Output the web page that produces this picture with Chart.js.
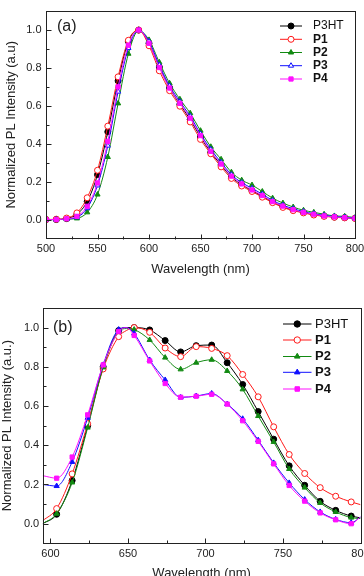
<!DOCTYPE html>
<html>
<head>
<meta charset="utf-8">
<script src="https://cdn.jsdelivr.net/npm/chart.js@4.4.1/dist/chart.umd.min.js"></script>
<style>
  html, body { margin: 0; padding: 0; background: #fff; overflow: hidden; width: 364px; height: 576px; }
  .box { position: absolute; left: 0; }
  #boxA { top: 0; }
  #boxB { top: 290px; }
</style>
</head>
<body>
<div class="box" id="boxA"><canvas id="chartA" width="380" height="290"></canvas></div>
<div class="box" id="boxB"><canvas id="chartB" width="380" height="300"></canvas></div>
<script>
// ── Panel (a) ──
const wlA = [500,510,520,530,540,550,560,570,580,590,600,610,620,630,640,650,660,670,680,690,700,710,720,730,740,750,760,770,780,790,800];
const p3htA = [0,0,0.005,0.028,0.095,0.237,0.463,0.732,0.94,1.0,0.93,0.805,0.695,0.608,0.528,0.436,0.355,0.288,0.225,0.184,0.153,0.123,0.093,0.068,0.05,0.037,0.026,0.019,0.013,0.01,0.007];
const p1A   = [0,0.002,0.008,0.035,0.115,0.26,0.493,0.753,0.946,1.0,0.917,0.785,0.68,0.598,0.515,0.423,0.347,0.278,0.217,0.177,0.148,0.118,0.089,0.064,0.047,0.035,0.024,0.017,0.012,0.009,0.006];
const p2A   = [0,0,0.002,0.006,0.038,0.132,0.33,0.613,0.875,0.997,0.948,0.83,0.719,0.635,0.561,0.469,0.384,0.318,0.25,0.208,0.182,0.148,0.113,0.087,0.066,0.049,0.038,0.028,0.019,0.017,0.01];
const p3A   = [0,0,0.003,0.012,0.06,0.18,0.39,0.675,0.905,1.0,0.94,0.815,0.705,0.622,0.545,0.452,0.37,0.302,0.237,0.195,0.165,0.134,0.101,0.076,0.057,0.042,0.031,0.022,0.016,0.012,0.008];
const p4A   = [0,0,0.004,0.017,0.07,0.193,0.413,0.7,0.92,1.0,0.93,0.802,0.694,0.613,0.535,0.443,0.36,0.293,0.229,0.188,0.156,0.127,0.095,0.071,0.052,0.038,0.028,0.019,0.014,0.01,0.007];

// ── Panel (b) ──
const wlB = [595,604,614,624,634,644,649,654,664,674,684,694,704,714,724,734,744,754,764,774,784,794,800];
const p3htB = [0,0.048,0.22,0.5,0.8,0.985,1.0,1.0,0.988,0.934,0.876,0.908,0.911,0.821,0.71,0.572,0.431,0.295,0.196,0.114,0.068,0.039,0.03];
const p1B   = [0.015,0.077,0.254,0.51,0.789,0.954,0.985,1.0,0.976,0.896,0.852,0.903,0.894,0.857,0.761,0.647,0.494,0.353,0.256,0.184,0.14,0.111,0.097];
const p2B   = [0,0.051,0.21,0.49,0.797,0.98,0.995,0.99,0.937,0.847,0.787,0.821,0.836,0.779,0.685,0.549,0.417,0.279,0.184,0.106,0.06,0.031,0.026];
const p3B   = [0.2,0.192,0.315,0.54,0.81,0.99,1.0,0.97,0.835,0.733,0.644,0.651,0.664,0.61,0.535,0.426,0.31,0.208,0.123,0.06,0.022,0.005,0.034];
const p4B   = [0.245,0.232,0.34,0.555,0.81,0.98,1.0,0.96,0.83,0.715,0.645,0.65,0.66,0.61,0.525,0.42,0.305,0.195,0.115,0.055,0.02,0.0,0.035];

// Achsen-Ticks
const xTicksA = [500,550,600,650,700,750,800];
const xMinorA = [525,575,625,675,725,775];
const xTicksB = [600,650,700,750,800];
const xMinorB = [625,675,725,775];
const yTicks  = [0,0.2,0.4,0.6,0.8,1.0];
const yMinor  = [0.1,0.3,0.5,0.7,0.9];

const FONT = 'Liberation Sans, Arial, sans-serif';
Chart.defaults.font.family = FONT;
Chart.defaults.color = '#222';

// ── Stil der Serien ──
const stile = [
  { label: 'P3HT', color: '#000000', point: 'circle',   open: false, bold: false },
  { label: 'P1',   color: '#ff1a1a', point: 'circle',   open: true,  bold: true  },
  { label: 'P2',   color: '#128a12', point: 'triangle', open: false, bold: true  },
  { label: 'P3',   color: '#1010ff', point: 'triangle', open: true,  bold: true  },
  { label: 'P4',   color: '#ff10ff', point: 'rect',     open: false, bold: true  }
];

function baueDatasets(wl, reihen, offenP3, radiusFn) {
  return reihen.map((werte, i) => {
    const s = stile[i];
    const offen = s.label === 'P3' ? offenP3 : s.open;
    return {
      label: s.label,
      data: wl.map((x, k) => ({ x, y: werte[k] })),
      borderColor: s.color,
      borderWidth: 1,
      pointStyle: s.point,
      pointRadius: radiusFn,
      pointBorderWidth: 1,
      pointBorderColor: s.color,
      pointBackgroundColor: offen ? '#ffffff' : s.color,
      cubicInterpolationMode: 'monotone',
      order: 5 - i,
      _bold: s.bold
    };
  });
}

// Rahmen, innenliegende Ticks, Legende, Panel-Label
const rahmenPlugin = {
  id: 'rahmen',
  afterDraw(chart, args, o) {
    const { ctx, chartArea: a, scales: { x, y } } = chart;
    ctx.save();
    ctx.strokeStyle = '#222';
    ctx.lineWidth = 1;
    ctx.strokeRect(Math.round(a.left) + 0.5, Math.round(a.top) + 0.5,
                   Math.round(a.right - a.left), Math.round(a.bottom - a.top));

    const strich = (x1, y1, x2, y2) => {
      ctx.beginPath(); ctx.moveTo(x1, y1); ctx.lineTo(x2, y2); ctx.stroke();
    };
    const bx = Math.round(a.bottom) + 0.5;
    const lx = Math.round(a.left) + 0.5;
    o.xMajor.forEach(v => { const p = Math.round(x.getPixelForValue(v)) + 0.5; if (p > a.left + 1 && p < a.right - 1) strich(p, bx, p, bx - 5); });
    o.xMinor.forEach(v => { const p = Math.round(x.getPixelForValue(v)) + 0.5; strich(p, bx, p, bx - 3); });
    yTicks.forEach(v => { const p = Math.round(y.getPixelForValue(v)) + 0.5; strich(lx, p, lx + 5, p); });
    yMinor.forEach(v => { const p = Math.round(y.getPixelForValue(v)) + 0.5; strich(lx, p, lx + 3, p); });

    // Panel-Label
    ctx.fillStyle = '#222';
    ctx.font = '16px ' + FONT;
    ctx.textBaseline = 'middle';
    ctx.textAlign = 'left';
    ctx.fillText(o.panel, o.panelX, o.panelY);

    // Legende
    const L = o.legende;
    chart.data.datasets.forEach((ds, i) => {
      const yy = L.ys[i];
      ctx.strokeStyle = ds.borderColor;
      ctx.lineWidth = 1;
      strich(L.x1, yy, L.x2, yy);
      ctx.fillStyle = ds.pointBackgroundColor;
      ctx.strokeStyle = ds.pointBorderColor;
      Chart.helpers.drawPoint(ctx, { pointStyle: ds.pointStyle, radius: L.r, borderWidth: 1, rotation: 0 }, (L.x1 + L.x2) / 2, yy);
      ctx.fillStyle = '#111';
      ctx.font = (ds._bold ? 'bold ' : '') + L.size + 'px ' + FONT;
      ctx.fillText(ds.label, L.tx, yy);
    });
    ctx.restore();
  }
};

function achsen(cfg) {
  return {
    x: {
      type: 'linear', min: cfg.xmin, max: cfg.xmax,
      afterBuildTicks: s => { s.ticks = cfg.xTicks.map(v => ({ value: v })); },
      afterFit: s => { s.height = cfg.xHeight; },
      grid: { display: false, drawTicks: false },
      border: { display: false },
      ticks: { padding: 4, font: { size: 11 }, maxRotation: 0, autoSkip: false, callback: v => String(v) },
      title: { display: true, text: 'Wavelength (nm)', font: { size: 13 }, padding: { top: 0, bottom: cfg.xTitlePad } }
    },
    y: {
      type: 'linear', min: -0.1, max: 1.1,
      afterBuildTicks: s => { s.ticks = yTicks.map(v => ({ value: v })); },
      afterFit: s => { s.width = cfg.yWidth; },
      grid: { display: false, drawTicks: false },
      border: { display: false },
      ticks: { padding: cfg.yPad, font: { size: 11 }, callback: v => v.toFixed(1) },
      title: { display: true, text: cfg.yTitle, font: { size: 13 }, padding: { top: cfg.yTitlePad, bottom: 0 } }
    }
  };
}

// ── Chart (a) ──
new Chart(document.getElementById('chartA'), {
  type: 'line',
  data: { datasets: baueDatasets(wlA, [p3htA, p1A, p2A, p3A, p4A], true, 3) },
  options: {
    responsive: false, animation: false,
    layout: { padding: { top: 8, right: 25, left: 0, bottom: 0 } },
    plugins: {
      legend: { display: false }, tooltip: { enabled: false },
      rahmen: {
        xMajor: xTicksA, xMinor: xMinorA, panel: '(a)', panelX: 57, panelY: 27,
        legende: { x1: 280, x2: 302, tx: 313, r: 3, size: 12, ys: [26, 39.3, 52.5, 65.7, 79] }
      }
    },
    scales: achsen({ xmin: 500, xmax: 800, xTicks: xTicksA, xHeight: 51.5, xTitlePad: 13, yWidth: 46, yPad: 4.5, yTitle: 'Normalized PL Intensity (a.u)', yTitlePad: 4 })
  },
  plugins: [rahmenPlugin]
});

// ── Chart (b) ──
const markerB = ctx => {
  const w = wlB[ctx.dataIndex];
  return (w >= 604 && w <= 794 && (w - 604) % 10 === 0) ? 3 : 0;
};
new Chart(document.getElementById('chartB'), {
  type: 'line',
  data: { datasets: baueDatasets(wlB, [p3htB, p1B, p2B, p3B, p4B], false, markerB) },
  options: {
    responsive: false, animation: false,
    layout: { padding: { top: 18, right: 19.5, left: 0, bottom: 0 } },
    plugins: {
      legend: { display: false }, tooltip: { enabled: false },
      rahmen: {
        xMajor: xTicksB, xMinor: xMinorB, panel: '(b)', panelX: 53, panelY: 38,
        legende: { x1: 283, x2: 311.5, tx: 315, r: 3.2, size: 13, ys: [34, 50, 66.5, 82.3, 99] }
      }
    },
    scales: achsen({ xmin: 595, xmax: 800, xTicks: xTicksB, xHeight: 46.7, xTitlePad: 8.5, yWidth: 42.7, yPad: 3.5, yTitle: 'Normalized PL Intensity (a.u.)', yTitlePad: 0 })
  },
  plugins: [rahmenPlugin]
});
</script>
</body>
</html>
